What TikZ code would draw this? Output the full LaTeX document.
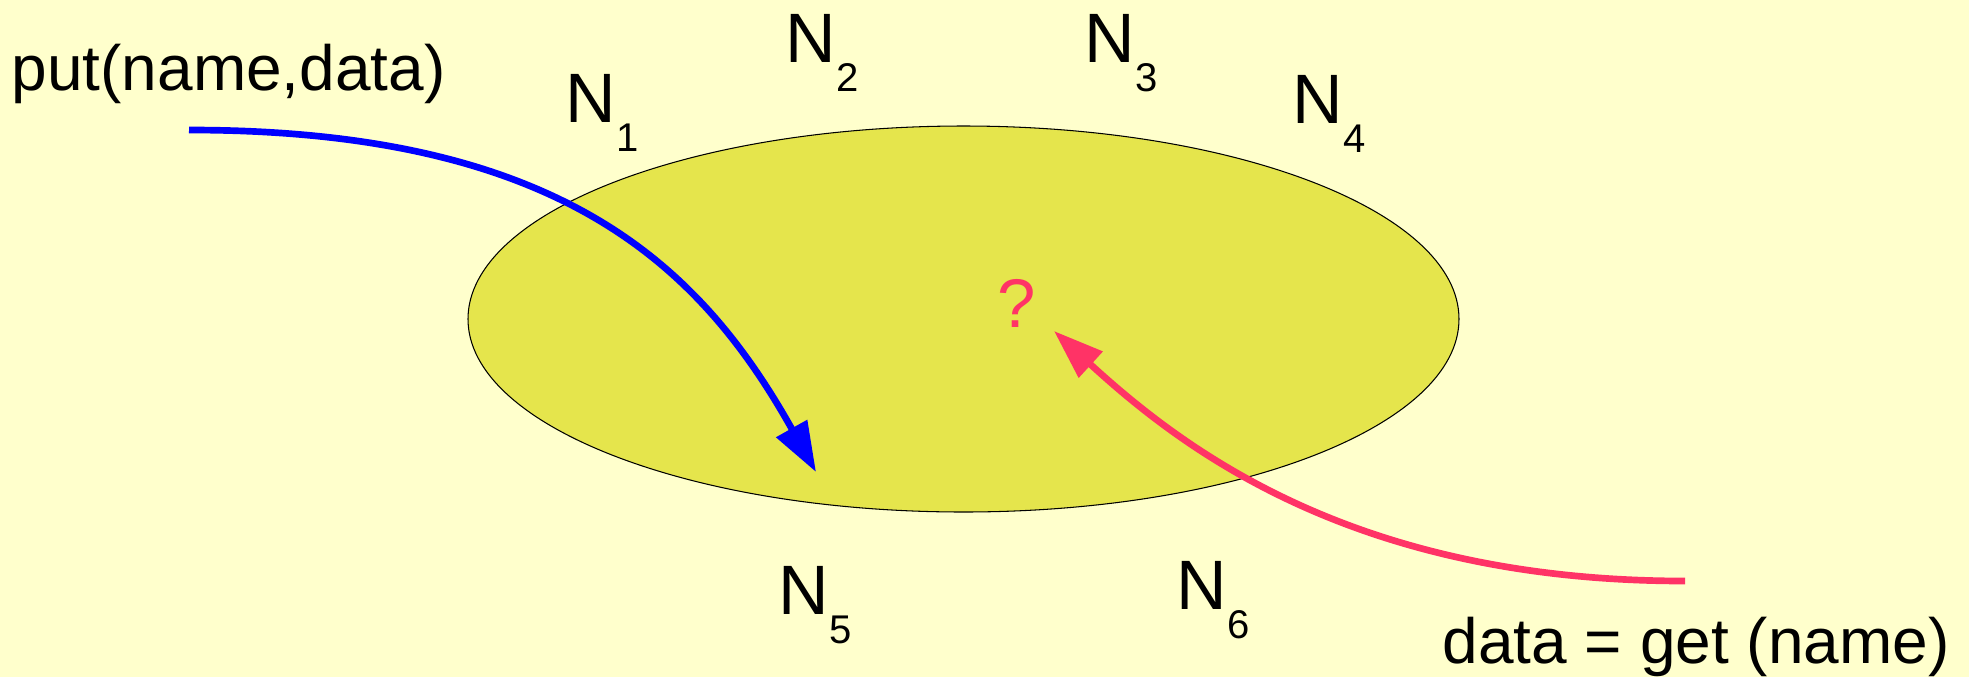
\documentclass[tikz,border=0pt]{standalone}
\usepackage{fontspec}
\setmainfont{Liberation Sans}
\usepackage{xcolor}
\usepackage{tikz}
\usetikzlibrary{arrows.meta,shapes.geometric}
\definecolor{slideyellow}{HTML}{FFFFCC}
\definecolor{ringyellow}{HTML}{E5E54C}
\definecolor{putblue}{HTML}{0000FF}
\definecolor{getpink}{HTML}{FF3366}
\newcommand{\peer}[1]{N\raisebox{-8.25pt}{\fontsize{11.4}{12}\selectfont #1}}
\tikzset{
  ringnode/.style={
    ellipse,
    draw=black,
    line width=0.3pt,
    fill=ringyellow,
    minimum width=9.91cm,
    minimum height=3.86cm,
    inner sep=0pt
  },
  peerlabel/.style={
    anchor=base west,
    inner sep=0pt,
    font=\fontsize{19.9}{22}\selectfont
  },
  calllabel/.style={
    anchor=base west,
    inner sep=0pt,
    font=\fontsize{18.2}{20}\selectfont
  },
  callarrow/.style={
    -{Triangle[length=14.2pt,width=9.7pt]},
    line width=1.9pt
  },
  putarrow/.style={
    callarrow,
    draw=putblue
  },
  getarrow/.style={
    callarrow,
    draw=getpink
  }
}

\begin{document}
\begin{tikzpicture}[x=0.1mm, y=-0.1mm]
    \fill[slideyellow] (0,0) rectangle (1969,677);

    \node[ringnode] (ring) at (963.5,319) {};
    \node[anchor=base, inner sep=0pt, text=getpink, font=\fontsize{19.6}{22}\selectfont] (lookup) at (1017,327) {?};

    \node[peerlabel] (n1) at (565,122) {\peer{1}};
    \node[peerlabel] (n2) at (785,62) {\peer{2}};
    \node[peerlabel] (n3) at (1084,62) {\peer{3}};
    \node[peerlabel] (n4) at (1292,123) {\peer{4}};
    \node[peerlabel] (n5) at (778,614) {\peer{5}};
    \node[peerlabel] (n6) at (1176,609) {\peer{6}};

    \node[calllabel] (putcall) at (11,90) {put(name,data)};
    \node[calllabel] (getcall) at (1442,663) {data = get (name)};

    \coordinate (putfrom) at (189,130);
    \coordinate (putto) at (816,472);
    \coordinate (getfrom) at (1685,581);
    \coordinate (getto) at (1054,331);

    \draw[putarrow] (putfrom) .. controls +(371,0) and +(-116,-207) .. (putto);
    \draw[getarrow] (getfrom) .. controls +(-330,0) and +(130,119) .. (getto);
\end{tikzpicture}
\end{document}
